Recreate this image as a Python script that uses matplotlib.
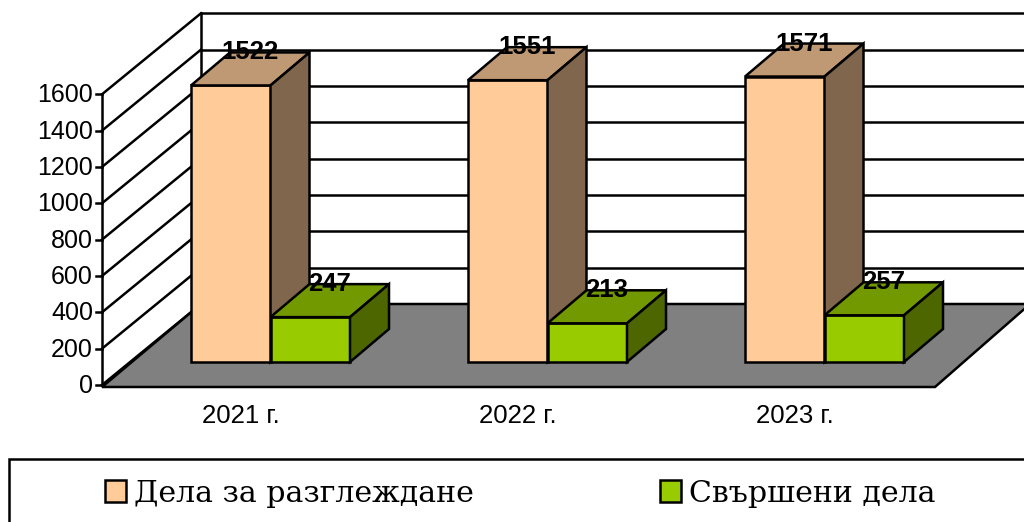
# 3D-look bar chart drawn on a pixel-sized axes
import matplotlib
matplotlib.use('Agg')
import matplotlib.pyplot as plt
from matplotlib.patches import Polygon, Rectangle

years = ['2021 г.', '2022 г.', '2023 г.']
cases_total = [1522, 1551, 1571]
cases_done = [247, 213, 257]
y_ticks = [0, 200, 400, 600, 800, 1000, 1200, 1400, 1600]
series_names = ['Дела за разглеждане', 'Свършени дела']

# geometry in pixels
SCALE = 0.1817
WALL_X, WALL_Y0 = 102, 385
BACK_DX, BACK_DY = 99, -81
BAR_W, BAR_DX, BAR_DY = 79.5, 39, -33
BAR_BASE = 362
GROUP_X0, GROUP_STEP = 191, 277
LW = 1.8

fig = plt.figure(figsize=(10.24, 5.22), dpi=100)
ax = fig.add_axes([0, 0, 1, 1])
ax.set_xlim(0, 1024)
ax.set_ylim(522, 0)
ax.axis('off')


def poly(pts, color, z=2):
    ax.add_patch(Polygon(pts, closed=True, facecolor=color, edgecolor='black',
                         linewidth=LW, joinstyle='miter', zorder=z))


def bar3d(x, value, front, top, side, z):
    y = BAR_BASE - value * SCALE
    x2 = x + BAR_W
    poly([(x, BAR_BASE), (x2, BAR_BASE), (x2, y), (x, y)], front, z)
    poly([(x, y), (x2, y), (x2 + BAR_DX, y + BAR_DY), (x + BAR_DX, y + BAR_DY)], top, z)
    poly([(x2, BAR_BASE), (x2 + BAR_DX, BAR_BASE + BAR_DY), (x2 + BAR_DX, y + BAR_DY), (x2, y)], side, z)
    ax.text(x + 59, y + BAR_DY, str(value), ha='center', va='center', fontsize=18.5,
            fontweight='bold', family='Liberation Sans', zorder=10)


# walls and gridlines
for t in y_ticks:
    y = WALL_Y0 - t * SCALE
    ax.plot([WALL_X, WALL_X + BACK_DX], [y, y + BACK_DY], color='black', lw=LW, zorder=1)
    ax.plot([WALL_X + BACK_DX, 1030], [y + BACK_DY, y + BACK_DY], color='black', lw=LW, zorder=1)
    ax.plot([WALL_X - 6, WALL_X], [y, y], color='black', lw=LW, zorder=1)
    ax.text(WALL_X - 9, y + 1, str(t), ha='right', va='center', fontsize=18,
            family='Liberation Sans')
top_y = WALL_Y0 - y_ticks[-1] * SCALE
ax.plot([WALL_X, WALL_X], [WALL_Y0, top_y], color='black', lw=LW, zorder=1)
ax.plot([WALL_X + BACK_DX] * 2, [WALL_Y0 + BACK_DY, top_y + BACK_DY], color='black', lw=LW, zorder=1)

# floor
poly([(WALL_X, WALL_Y0 + 2), (WALL_X + BACK_DX, WALL_Y0 + BACK_DY), (1030, WALL_Y0 + BACK_DY), (935, WALL_Y0 + 2)],
     '#808080', 1.5)

# bars
for i, year in enumerate(years):
    x = GROUP_X0 + i * GROUP_STEP
    bar3d(x, cases_total[i], '#FFCC99', '#BF9973', '#80664D', 3 + i)
    bar3d(x + BAR_W, cases_done[i], '#99CC00', '#739900', '#4D6600', 3 + i)
    ax.text(x + 50, 416, year, ha='center', va='center', fontsize=18.5, family='Liberation Sans')

# legend
ax.add_patch(Rectangle((8.5, 458.5), 1040, 80, facecolor='white', edgecolor='black', linewidth=LW, zorder=5))
legend_x = [105, 660]
legend_colors = ['#FFCC99', '#99CC00']
for name, lx, c in zip(series_names, legend_x, legend_colors):
    ax.add_patch(Rectangle((lx, 480), 21, 22, facecolor=c, edgecolor='black', linewidth=LW, zorder=6))
    ax.text(lx + 29, 502, name, ha='left', va='baseline', fontsize=21.6, family='DejaVu Serif', zorder=6)

fig.savefig('out.png', dpi=100)
